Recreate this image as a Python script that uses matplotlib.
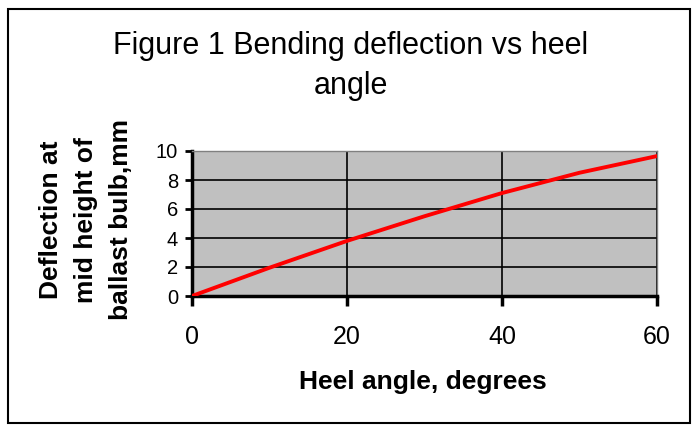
import matplotlib.pyplot as plt
from matplotlib.patches import Rectangle

# heel angle (deg) vs bending deflection (mm)
heel_angle = [0, 10, 20, 30, 40, 50, 60]
deflection = [0, 1.95, 3.8, 5.5, 7.1, 8.5, 9.65]
x_ticks = [0, 20, 40, 60]
y_ticks = [0, 2, 4, 6, 8, 10]

plt.rcParams['font.family'] = ['Liberation Sans', 'DejaVu Sans']

fig = plt.figure(figsize=(7, 4.32), dpi=100)
fig.patches.append(Rectangle((8 / 700, 9 / 432), 682 / 700, 414 / 432, transform=fig.transFigure,
                             fill=False, edgecolor='black', linewidth=1.5))

ax = fig.add_axes([192 / 700, 1 - 296 / 432, 465 / 700, 145 / 432])
ax.set_facecolor('#c0c0c0')
ax.plot(heel_angle, deflection, color='#ff0000', linewidth=2.8, zorder=3)

ax.set_xlim(0, 60)
ax.set_ylim(0, 10)
ax.set_xticks(x_ticks)
ax.set_yticks(y_ticks)
ax.grid(True, color='black', linewidth=1.2)
ax.set_axisbelow(True)

for side in ['top', 'right']:
    ax.spines[side].set_color('#808080')
    ax.spines[side].set_linewidth(1)
for side in ['left', 'bottom']:
    ax.spines[side].set_color('black')
    ax.spines[side].set_linewidth(2.5)
ax.tick_params(axis='y', direction='out', length=5, width=2, labelsize=14.5, pad=5)
ax.tick_params(axis='x', direction='out', length=7, width=2.5, labelsize=18, pad=14)

fig.text(351 / 700, 1 - 46 / 432, 'Figure 1 Bending deflection vs heel', ha='center', va='center', fontsize=22)
fig.text(351 / 700, 1 - 86 / 432, 'angle', ha='center', va='center', fontsize=22)

fig.text(423 / 700, 1 - 382 / 432, 'Heel angle, degrees', ha='center', va='center',
         fontsize=19, fontweight='bold')
fig.text(86 / 700, 1 - 220 / 432, 'Deflection at\nmid height of\nballast bulb,mm', ha='center', va='center',
         rotation=90, fontsize=19, fontweight='bold', linespacing=1.6)

fig.savefig('out.png', dpi=100)
